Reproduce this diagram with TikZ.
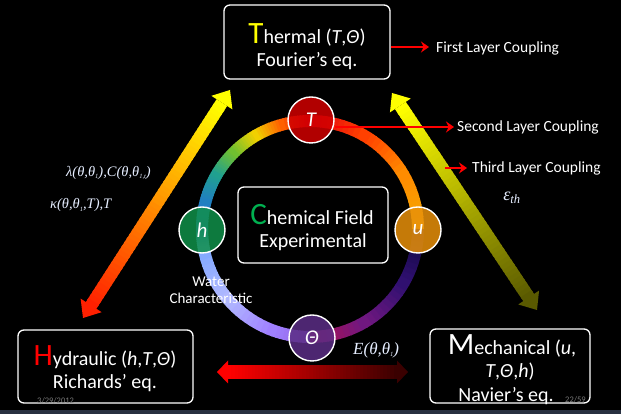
\documentclass[tikz,border=0pt]{standalone}
\usepackage{fontspec}
\setmainfont{Carlito}
\newfontfamily\lserif{Liberation Serif}
\usetikzlibrary{calc,arrows.meta}
\newcommand\lsub[1]{\raisebox{-2.5pt}{\fontsize{6.5}{6.5}\selectfont #1}}
\definecolor{tred}{HTML}{D00000}
\definecolor{uora}{HTML}{E8900A}
\definecolor{hgrn}{HTML}{10904A}
\definecolor{thpur}{HTML}{5B2D85}
\definecolor{cgrn}{HTML}{00B050}
\definecolor{labc}{HTML}{E6EEFF}
\definecolor{footc}{HTML}{7A7A7A}
\definecolor{stripc}{HTML}{283040}
\definecolor{ayel}{HTML}{FFFF00}
\definecolor{ared}{HTML}{FF2000}
\definecolor{aolive}{HTML}{5A5A00}
\definecolor{bred}{HTML}{FF0000}
\definecolor{bdark}{HTML}{3A0000}
% ring colours
\definecolor{r0}{HTML}{F5A800}
\definecolor{r30}{HTML}{FF8C00}
\definecolor{r60}{HTML}{FF4000}
\definecolor{r90}{HTML}{E00010}
\definecolor{r105}{HTML}{FF6000}
\definecolor{r120}{HTML}{F0D000}
\definecolor{r135}{HTML}{70C030}
\definecolor{r150}{HTML}{20A090}
\definecolor{r165}{HTML}{2080C0}
\definecolor{r180}{HTML}{3070E0}
\definecolor{r190}{HTML}{80A8FF}
\definecolor{r220}{HTML}{B0B8FF}
\definecolor{r250}{HTML}{A080FF}
\definecolor{r270}{HTML}{9060E0}
\definecolor{s270}{HTML}{B01050}
\definecolor{s300}{HTML}{701880}
\definecolor{s330}{HTML}{301070}
\definecolor{s360}{HTML}{100840}
\newcommand\ringseg[4]{%
  \foreach \ri in {0,...,9}{%
    \pgfmathsetmacro\ringA{#1+(#2-#1)*\ri/10}%
    \pgfmathsetmacro\ringB{#1+(#2-#1)*(\ri+1)/10+0.6}%
    \pgfmathtruncatemacro\ringP{100*\ri/9}%
    \draw[line width=12pt, color=#4!\ringP!#3] (ctr) ++(\ringA:108pt) arc[start angle=\ringA, end angle=\ringB, radius=108pt];
  }}
\newcommand\gradarrow[7]{%
  \path ($(#1)!#7!(#2)$) coordinate (gS) ($(#2)!#7!(#1)$) coordinate (gE);
  \foreach \gi in {0,...,49}{%
    \pgfmathsetmacro\gA{\gi/50}%
    \pgfmathsetmacro\gB{(\gi+1.5)/50}%
    \pgfmathtruncatemacro\gP{100*\gi/49}%
    \draw[line width=#5, color=#4!\gP!#3] ($(gS)!\gA!(gE)$) -- ($(gS)!\gB!(gE)$);
  }
  \fill[#3] (#1) -- ($(gS)!#6!90:(gE)$) -- ($(gS)!#6!-90:(gE)$) -- cycle;
  \fill[#4] (#2) -- ($(gE)!#6!90:(gS)$) -- ($(gE)!#6!-90:(gS)$) -- cycle;
}
\begin{document}
\begin{tikzpicture}[x=1pt,y=1pt,
  panel/.style={draw=white, line width=1.3pt, rounded corners=6pt, fill=black},
  bub/.style={circle, minimum size=46pt, draw=white, line width=1.4pt, fill opacity=0.85, text opacity=1, text=white, font=\fontsize{21}{21}\selectfont\itshape, inner sep=0pt},
  ttl/.style={text=white, inner sep=0pt, font=\fontsize{20}{22}\selectfont},
  cpl/.style={text=white, inner sep=0pt, anchor=west, font=\fontsize{15.5}{17}\selectfont},
  coupl/.style={draw=red, line width=2.6pt, -{Stealth[length=8pt,width=11pt]}},
  lab/.style={text=labc, inner sep=0pt, font=\lserif\itshape\fontsize{14.5}{15}\selectfont},
  foot/.style={text=footc, inner sep=0pt, font=\fontsize{8.5}{9}\selectfont}]
\fill[black] (0,0) rectangle (621,414);
\useasboundingbox (0,0) rectangle (621,414);
\fill[stripc] (0,0) rectangle (621,4);

% ring
\coordinate (ctr) at (310,185);
\ringseg{0}{30}{r0}{r30}
\ringseg{30}{60}{r30}{r60}
\ringseg{60}{90}{r60}{r90}
\ringseg{90}{105}{r90}{r105}
\ringseg{105}{120}{r105}{r120}
\ringseg{120}{135}{r120}{r135}
\ringseg{135}{150}{r135}{r150}
\ringseg{150}{165}{r150}{r165}
\ringseg{165}{180}{r165}{r180}
\ringseg{180}{190}{r180}{r190}
\ringseg{190}{220}{r190}{r220}
\ringseg{220}{250}{r220}{r250}
\ringseg{250}{270}{r250}{r270}
\ringseg{270}{300}{s270}{s300}
\ringseg{300}{330}{s300}{s330}
\ringseg{330}{359.4}{s330}{s360}

% boxes
\node[panel, minimum width=166pt, minimum height=74pt] (therm) at (307,372) {};
\node[ttl] (thermA) at (307,379) {{\color{ayel}\fontsize{31}{31}\selectfont T}hermal (\textit{T},\textit{Θ})};
\node[ttl] (thermB) at (307,353) {Fourier’s eq.};

\node[panel, minimum width=175pt, minimum height=73pt] (hyd) at (105.5,47.5) {};
\node[ttl] (hydA) at (105,57) {{\color{bred}\fontsize{31}{31}\selectfont H}ydraulic (\textit{h},\textit{T},\textit{Θ})};
\node[ttl] (hydB) at (105,31) {Richards’ eq.};

\node[panel, minimum width=160pt, minimum height=74pt] (mech) at (510,48) {};
\node[ttl] (mechA) at (512,68) {{\fontsize{31}{31}\selectfont M}echanical (\textit{u},};
\node[ttl] (mechB) at (510,42) {\textit{T},\textit{Θ},\textit{h})};
\node[ttl] (mechC) at (506,18) {Navier’s eq.};

\node[panel, minimum width=150pt, minimum height=76pt] (chem) at (313,189) {};
\node[ttl] (chemA) at (312,199) {{\color{cgrn}\fontsize{31}{31}\selectfont C}hemical Field};
\node[ttl] (chemB) at (313,172) {Experimental};

% field bubbles
\node[bub, fill=tred] (T) at (311,294) {T};
\node[bub, fill=uora] (u) at (418,184) {u};
\node[bub, fill=hgrn] (h) at (202,184) {h};
\node[bub, fill=thpur] (Th) at (312,76) {Θ};

% big gradient arrows
\coordinate (LA) at (230,324);
\coordinate (LB) at (83,96);
\gradarrow{LA}{LB}{ayel}{ared}{12.5pt}{12.5pt}{15pt}
\coordinate (RA) at (392,321);
\coordinate (RB) at (537,104);
\gradarrow{RA}{RB}{ayel}{aolive}{13pt}{12.5pt}{15pt}
\coordinate (BA) at (217,42);
\coordinate (BB) at (408,42);
\gradarrow{BA}{BB}{bred}{bdark}{14pt}{11.5pt}{11pt}

% coupling arrows
\coordinate (c1) at (429,367);
\coordinate (c2s) at (335,287);
\coordinate (c2) at (454,287);
\coordinate (c3s) at (445,246);
\coordinate (c3) at (467,246);
\draw[coupl] (therm.east |- c1) -- (c1);
\draw[coupl] (c2s) -- (c2);
\draw[coupl] (c3s) -- (c3);
\node[cpl] (l1) at (436,366) {First Layer Coupling};
\node[cpl] (l2) at (457,287) {Second Layer Coupling};
\node[cpl] (l3) at (472,246) {Third Layer Coupling};

% labels
\node[lab, anchor=west] (lam) at (66,241) {λ(θ,θ\lsub{1}),C(θ,θ\lsub{1,t})};
\node[lab, anchor=west] (kap) at (50,209) {κ(θ,θ\lsub{1},T),T};
\node[lab, font=\lserif\itshape\fontsize{18}{18}\selectfont] (eps) at (512,216) {ε\textsubscript{th}};
\node[lab, anchor=west, font=\lserif\itshape\fontsize{17}{17}\selectfont] (E) at (353,64) {E(θ,θ\lsub{1})};
\node[text=white, inner sep=0pt, align=center, font=\fontsize{15}{17}\selectfont] (water) at (211,124) {Water\\Characteristic};

% footer
\node[foot, anchor=west] (date) at (37,13) {3/29/2012};
\node[foot, anchor=west] (page) at (565,14) {22/59};
\end{tikzpicture}
\end{document}
